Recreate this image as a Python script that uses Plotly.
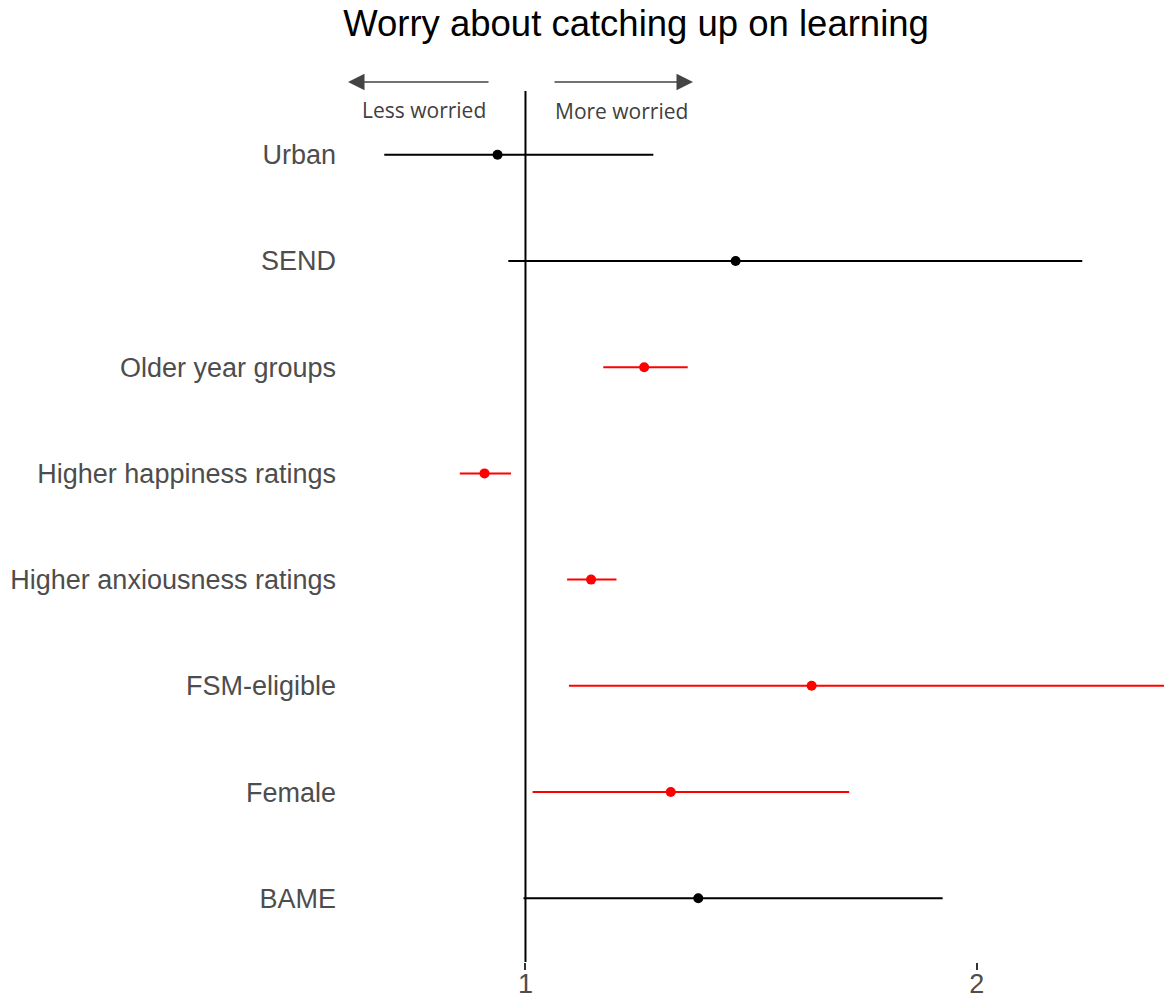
import plotly.graph_objects as go

categories = ["Urban", "SEND", "Older year groups", "Higher happiness ratings",
              "Higher anxiousness ratings", "FSM-eligible", "Female", "BAME"]
estimate = [0.958, 1.381, 1.200, 0.939, 1.106, 1.552, 1.250, 1.304]
lower = [0.805, 0.974, 1.127, 0.904, 1.066, 1.069, 1.011, 0.997]
upper = [1.217, 2.352, 1.283, 0.978, 1.150, 2.700, 1.644, 1.898]
significant = [False, False, True, True, True, True, True, False]
tick_vals = [1, 2]
tick_text = ["1", "2"]

OFF = 8  # page body margin
W, H = 1172 - OFF, 999 - OFF
L, R, T, B = 345 - OFF, 0, 91 - OFF, 37
pw, ph = W - L - R, H - T - B

def px(x):
    return (x - OFF - L) / pw

def py(y):
    return (H - B - (y - OFF)) / ph

fig = go.Figure()

for sig, col in [(False, "black"), (True, "#ff0000")]:
    idx = [i for i, s in enumerate(significant) if s == sig]
    fig.add_trace(go.Scatter(
        x=[estimate[i] for i in idx],
        y=[i for i in idx],
        mode="markers",
        marker=dict(color=col, size=10),
        error_x=dict(type="data", symmetric=False,
                     array=[upper[i] - estimate[i] for i in idx],
                     arrayminus=[estimate[i] - lower[i] for i in idx],
                     color=col, thickness=2, width=0),
        showlegend=False,
        cliponaxis=True,
    ))

# reference line at 1
fig.add_shape(type="line", xref="x", yref="paper", x0=1, x1=1, y0=0, y1=1,
              line=dict(color="black", width=2), layer="below")

arrow_col = "#444444"
fig.add_annotation(xref="paper", yref="paper", x=px(348), y=py(82), ax=142, ay=0,
                   axref="pixel", ayref="pixel", text="", showarrow=True,
                   arrowhead=2, arrowsize=2.2, arrowwidth=1.5, arrowcolor=arrow_col, standoff=0)
fig.add_annotation(xref="paper", yref="paper", x=px(693), y=py(82), ax=-140, ay=0,
                   axref="pixel", ayref="pixel", text="", showarrow=True,
                   arrowhead=2, arrowsize=2.2, arrowwidth=1.5, arrowcolor=arrow_col, standoff=0)
fig.add_annotation(xref="paper", yref="paper", x=px(424), y=py(110), text="Less worried",
                   showarrow=False, font=dict(family="Open Sans", size=21, color="#404040"),
                   xanchor="center", yanchor="middle")
fig.add_annotation(xref="paper", yref="paper", x=px(621.5), y=py(111), text="More worried",
                   showarrow=False, font=dict(family="Open Sans", size=21, color="#404040"),
                   xanchor="center", yanchor="middle")

fig.update_layout(
    width=W, height=H,
    margin=dict(l=L, r=R, t=T, b=B, autoexpand=False),
    paper_bgcolor="white", plot_bgcolor="white",
    font=dict(family="Liberation Sans, Arial", size=27, color="#4d4d4d"),
    title=dict(text="Worry about catching up on learning", x=(636 - OFF) / W, xref="container",
               xanchor="center", y=1 - (23 - OFF) / H, yref="container", yanchor="middle",
               font=dict(family="Liberation Sans, Arial", size=36.5, color="black")),
)
fig.update_xaxes(type="log", range=[-0.1204, 0.4313], tickvals=tick_vals, ticktext=tick_text,
                 showgrid=False, zeroline=False, showline=False, automargin=False,
                 ticks="outside", ticklen=7, tickcolor="#333333", tickwidth=1.5,
                 ticklabelstandoff=-9,
                 tickfont=dict(size=27, color="#4d4d4d"))
fig.update_yaxes(range=[7.6, -0.6], tickvals=list(range(len(categories))), ticktext=categories,
                 showgrid=False, zeroline=False, showline=False, ticks="", automargin=False,
                 ticklabelstandoff=8, tickfont=dict(size=27, color="#4d4d4d"))

fig.write_html("out.html")
